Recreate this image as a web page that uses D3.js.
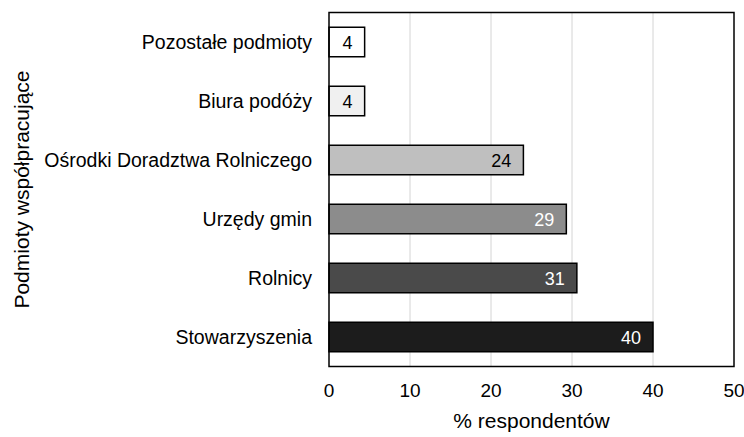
<!DOCTYPE html>
<html>
<head>
<meta charset="utf-8">
<script src="https://cdn.jsdelivr.net/npm/d3@7"></script>
<style>
  body { margin: 0; background: #fff; }
  text { font-family: Arial, "Liberation Sans", sans-serif; }
</style>
</head>
<body>
<svg id="chart" width="744" height="437"></svg>
<script>
// data, top to bottom
const categories = ["Pozostałe podmioty", "Biura podóży", "Ośrodki Doradztwa Rolniczego", "Urzędy gmin", "Rolnicy", "Stowarzyszenia"];
const values = [4.4, 4.4, 24.0, 29.3, 30.6, 40.0];
const valueLabels = ["4", "4", "24", "29", "31", "40"];
const barFills = ["#ffffff", "#f0f0f0", "#bfbfbf", "#8c8c8c", "#4a4a4a", "#1c1c1c"];
const labelFills = ["#000", "#000", "#000", "#fff", "#fff", "#fff"];
const xTicks = [0, 10, 20, 30, 40, 50];

const margin = {top: 12.5, right: 10, bottom: 70.5, left: 329};
const width = 744, height = 437;

const svg = d3.select("#chart");

const x = d3.scaleLinear()
            .domain([0, 50])
            .range([margin.left, width - margin.right]);

const y = d3.scaleBand()
            .domain(categories)
            .range([margin.top, height - margin.bottom])
            .paddingInner(0.5)
            .paddingOuter(0.25);

// gridlines
svg.append("g")
  .selectAll("line")
  .data(xTicks.slice(1, -1))
  .enter().append("line")
  .attr("x1", d => x(d)).attr("x2", d => x(d))
  .attr("y1", margin.top).attr("y2", height - margin.bottom)
  .attr("stroke", "#d4d4d4")
  .attr("stroke-width", 1);

// bars
svg.append("g")
  .selectAll("rect")
  .data(categories)
  .enter().append("rect")
  .attr("x", x(0))
  .attr("y", d => y(d))
  .attr("width", (d, i) => x(values[i]) - x(0))
  .attr("height", y.bandwidth())
  .attr("fill", (d, i) => barFills[i])
  .attr("stroke", "#000")
  .attr("stroke-width", 1.5);

// value labels
svg.append("g")
  .selectAll("text")
  .data(categories)
  .enter().append("text")
  .attr("x", (d, i) => x(values[i]) - 12)
  .attr("y", d => y(d) + y.bandwidth() / 2 + 6.5)
  .attr("text-anchor", "end")
  .attr("font-size", "18px")
  .attr("fill", (d, i) => labelFills[i])
  .text((d, i) => valueLabels[i]);

// frame
svg.append("rect")
  .attr("x", margin.left)
  .attr("y", margin.top)
  .attr("width", width - margin.right - margin.left)
  .attr("height", height - margin.bottom - margin.top)
  .attr("fill", "none")
  .attr("stroke", "#000")
  .attr("stroke-width", 1.5);

// category labels
svg.append("g")
  .selectAll("text")
  .data(categories)
  .enter().append("text")
  .attr("x", margin.left - 17)
  .attr("y", d => y(d) + y.bandwidth() / 2 + 7)
  .attr("text-anchor", "end")
  .attr("font-size", "19.5px")
  .attr("fill", "#000")
  .text(d => d);

// x tick labels
svg.append("g")
  .selectAll("text")
  .data(xTicks)
  .enter().append("text")
  .attr("x", d => x(d))
  .attr("y", 397)
  .attr("text-anchor", "middle")
  .attr("font-size", "19px")
  .text(d => d);

// axis titles
svg.append("text")
  .attr("x", (x(0) + x(50)) / 2)
  .attr("y", 428)
  .attr("text-anchor", "middle")
  .attr("font-size", "21px")
  .text("% respondentów");

svg.append("text")
  .attr("transform", `translate(29,${(margin.top + height - margin.bottom) / 2}) rotate(-90)`)
  .attr("text-anchor", "middle")
  .attr("font-size", "21px")
  .text("Podmioty współpracujące");
</script>
</body>
</html>
